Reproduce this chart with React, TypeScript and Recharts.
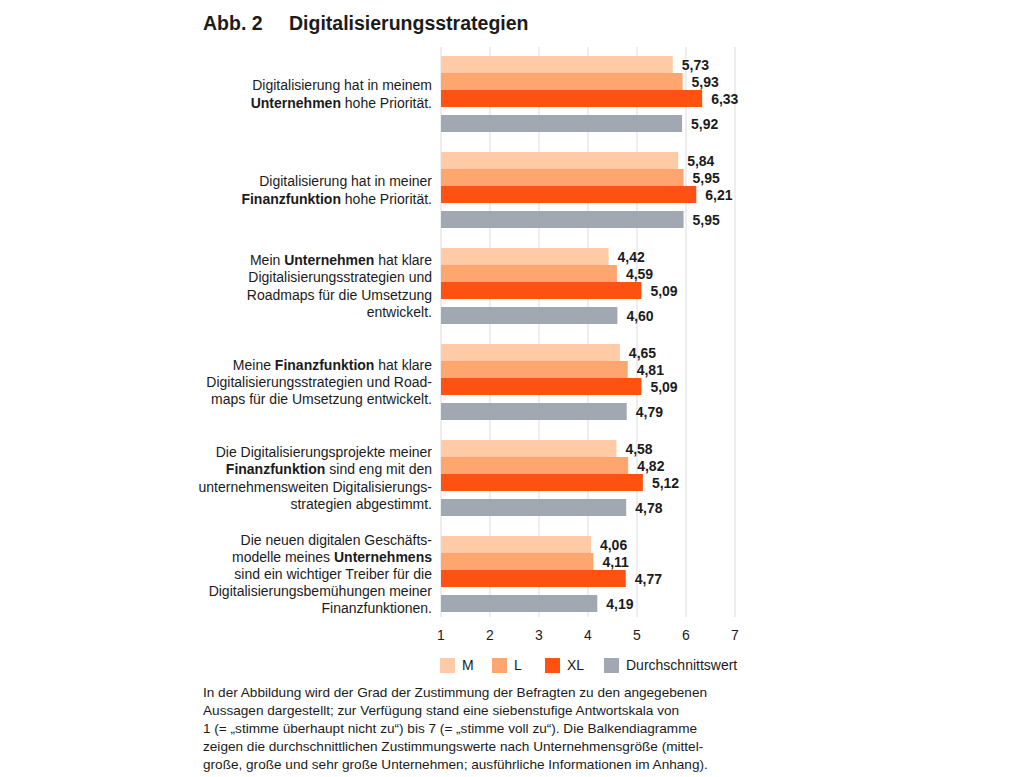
import React from 'react';
import { BarChart, Bar, XAxis, YAxis, CartesianGrid, LabelList } from 'recharts';

// statements on the y axis; **...** marks bold words, \n a line break
const statements = [
  'Digitalisierung hat in meinem\n**Unternehmen** hohe Priorität.',
  'Digitalisierung hat in meiner\n**Finanzfunktion** hohe Priorität.',
  'Mein **Unternehmen** hat klare\nDigitalisierungsstrategien und\nRoadmaps für die Umsetzung\nentwickelt.',
  'Meine **Finanzfunktion** hat klare\nDigitalisierungsstrategien und Road-\nmaps für die Umsetzung entwickelt.',
  'Die Digitalisierungsprojekte meiner\n**Finanzfunktion** sind eng mit den\nunternehmensweiten Digitalisierungs-\nstrategien abgestimmt.',
  'Die neuen digitalen Geschäfts-\nmodelle meines **Unternehmens**\nsind ein wichtiger Treiber für die\nDigitalisierungsbemühungen meiner\nFinanzfunktionen.',
];

const mValues = [5.73, 5.84, 4.42, 4.65, 4.58, 4.06];
const lValues = [5.93, 5.95, 4.59, 4.81, 4.82, 4.11];
const xlValues = [6.33, 6.21, 5.09, 5.09, 5.12, 4.77];
const avgValues = [5.92, 5.95, 4.6, 4.79, 4.78, 4.19];

const seriesNames = ['M', 'L', 'XL', 'Durchschnittswert'];
const seriesKeys = ['m', 'l', 'xl', 'avg'];
const seriesColors = ['#ffcba6', '#ffa670', '#ff5212', '#a1a8b2'];

const xTicks = [1, 2, 3, 4, 5, 6, 7];

const footnote = [
  'In der Abbildung wird der Grad der Zustimmung der Befragten zu den angegebenen',
  'Aussagen dargestellt; zur Verfügung stand eine siebenstufige Antwortskala von',
  '1 (= „stimme überhaupt nicht zu“) bis 7 (= „stimme voll zu“). Die Balkendiagramme',
  'zeigen die durchschnittlichen Zustimmungswerte nach Unternehmensgröße (mittel-',
  'große, große und sehr große Unternehmen; ausführliche Informationen im Anhang).',
];

const data = statements.map((s, i) => ({
  statement: s,
  m: mValues[i],
  l: lValues[i],
  xl: xlValues[i],
  avg: avgValues[i],
}));

const FONT = '"Liberation Sans", Arial, Helvetica, sans-serif';
const TEXT = '#1b1b1b';
const AVG_SHIFT = 8; // extra gap between XL and the average bar

const fmt = (v: number) => v.toFixed(2).replace('.', ',');

const StatementTick = (props: any) => {
  const { x, y, payload } = props;
  const lines: string[] = String(payload.value).split('\n');
  const lh = 17.2;
  const start = y + 4 - ((lines.length - 1) * lh) / 2;
  return (
    <text x={x - 9} y={start} textAnchor="end" fontSize={14} fontFamily={FONT} fill={TEXT}>
      {lines.map((line, i) => (
        <tspan key={i} x={x - 9} y={start + i * lh} dy="0.35em">
          {line.split('**').map((part, j) => (
            <tspan key={j} fontWeight={j % 2 === 1 ? 'bold' : 'normal'}>
              {part}
            </tspan>
          ))}
        </tspan>
      ))}
    </text>
  );
};

const ValueTick = (props: any) => {
  const { x, y, payload } = props;
  return (
    <text x={x} y={y + 17} dy="0.35em" textAnchor="middle" fontSize={14} fontFamily={FONT} fill={TEXT}>
      {payload.value}
    </text>
  );
};

const valueLabel = (shift: number) => (props: any) => {
  const { x, y, width, height, value } = props;
  return (
    <text
      x={Number(x) + Number(width) + 9}
      y={Number(y) + Number(height) / 2 + shift + 0.5}
      dy="0.35em"
      fontSize={14}
      fontWeight="bold"
      fontFamily={FONT}
      fill={TEXT}
    >
      {fmt(Number(value))}
    </text>
  );
};

const shiftedBar = (shift: number) => (props: any) => {
  const { x, y, width, height, fill } = props;
  return <rect x={x} y={Number(y) + shift} width={width} height={height} fill={fill} />;
};

const legendX = [440, 492, 545, 604];

export default function App() {
  return (
    <div style={{ position: 'absolute', left: 0, top: 0, width: 1024, height: 777, background: '#fff', fontFamily: FONT, color: TEXT }}>
      <div style={{ position: 'absolute', left: 203, top: 12, fontSize: 19.5, fontWeight: 'bold', whiteSpace: 'nowrap' }}>
        Abb. 2
      </div>
      <div style={{ position: 'absolute', left: 289, top: 12, fontSize: 19.5, fontWeight: 'bold', whiteSpace: 'nowrap' }}>
        Digitalisierungsstrategien
      </div>

      <div style={{ position: 'absolute', left: 0, top: 0 }}>
        <BarChart
          width={760}
          height={650}
          data={data}
          layout="vertical"
          margin={{ top: 42, right: 25, bottom: 2, left: 0 }}
          barSize={17}
          barGap={0}
        >
          <CartesianGrid horizontal={false} stroke="#dcdde3" y={47} height={570} />
          <XAxis
            type="number"
            domain={[1, 7]}
            ticks={xTicks}
            axisLine={false}
            tickLine={false}
            tickSize={0}
            tickMargin={0}
            height={30}
            tick={<ValueTick />}
          />
          <YAxis
            type="category"
            dataKey="statement"
            width={441}
            axisLine={false}
            tickLine={false}
            tickSize={0}
            tickMargin={0}
            interval={0}
            tick={<StatementTick />}
          />
          {seriesKeys.map((key, i) => {
            const shift = i === 3 ? AVG_SHIFT : 0;
            return (
              <Bar
                key={key}
                dataKey={key}
                name={seriesNames[i]}
                fill={seriesColors[i]}
                isAnimationActive={false}
                shape={shiftedBar(shift)}
              >
                <LabelList dataKey={key} content={valueLabel(shift)} />
              </Bar>
            );
          })}
        </BarChart>
      </div>

      {seriesNames.map((name, i) => (
        <div
          key={name}
          style={{ position: 'absolute', left: legendX[i], top: 657, display: 'flex', alignItems: 'center', fontSize: 14, whiteSpace: 'nowrap' }}
        >
          <span style={{ display: 'inline-block', width: 15, height: 15, background: seriesColors[i], marginRight: 7 }} />
          {name}
        </div>
      ))}

      <div style={{ position: 'absolute', left: 203, top: 684, fontSize: 13.6, lineHeight: '17.9px', whiteSpace: 'nowrap' }}>
        {footnote.map((line, i) => (
          <div key={i}>{line}</div>
        ))}
      </div>
    </div>
  );
}
